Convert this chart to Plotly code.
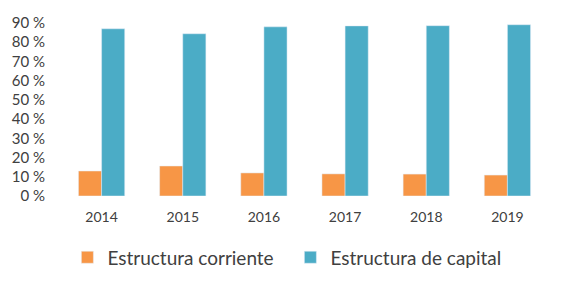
import plotly.graph_objects as go

years = ["2014", "2015", "2016", "2017", "2018", "2019"]
corriente = [13.0, 15.6, 12.0, 11.5, 11.4, 10.9]
capital = [87.0, 84.4, 88.0, 88.5, 88.6, 89.1]
y_ticks = [0, 10, 20, 30, 40, 50, 60, 70, 80, 90]
y_labels = [f"{v} %" for v in y_ticks]

fig = go.Figure()
fig.add_trace(go.Bar(x=years, y=corriente, name="Estructura corriente", marker_color="#F79646"))
fig.add_trace(go.Bar(x=years, y=capital, name="Estructura de capital", marker_color="#4BACC6"))

fig.update_layout(
    width=570, height=291,
    margin=dict(l=61, r=22, t=23, b=95, autoexpand=False),
    plot_bgcolor="white", paper_bgcolor="white",
    barmode="group", bargap=0.43, bargroupgap=0,
    font=dict(family="Lato, Open Sans, sans-serif", color="#404040", size=14),
    showlegend=True,
    legend=dict(orientation="h", x=0.471, xanchor="center", y=-0.245, yanchor="top",
                font=dict(size=19), tracegroupgap=0, entrywidth=178),
)
fig.update_xaxes(showgrid=False, showline=False, ticks="outside", ticklen=8,
                 tickcolor="rgba(0,0,0,0)", tickfont=dict(size=14), automargin=False)
fig.update_yaxes(range=[0, 90], tickmode="array", tickvals=y_ticks, ticktext=y_labels,
                 showgrid=False, showline=False, zeroline=False, tickfont=dict(size=15),
                 ticks="outside", ticklen=12, tickcolor="rgba(0,0,0,0)", automargin=False)
fig.write_html("out.html", config={"displayModeBar": False},
               post_script="document.body.style.margin='0';")
